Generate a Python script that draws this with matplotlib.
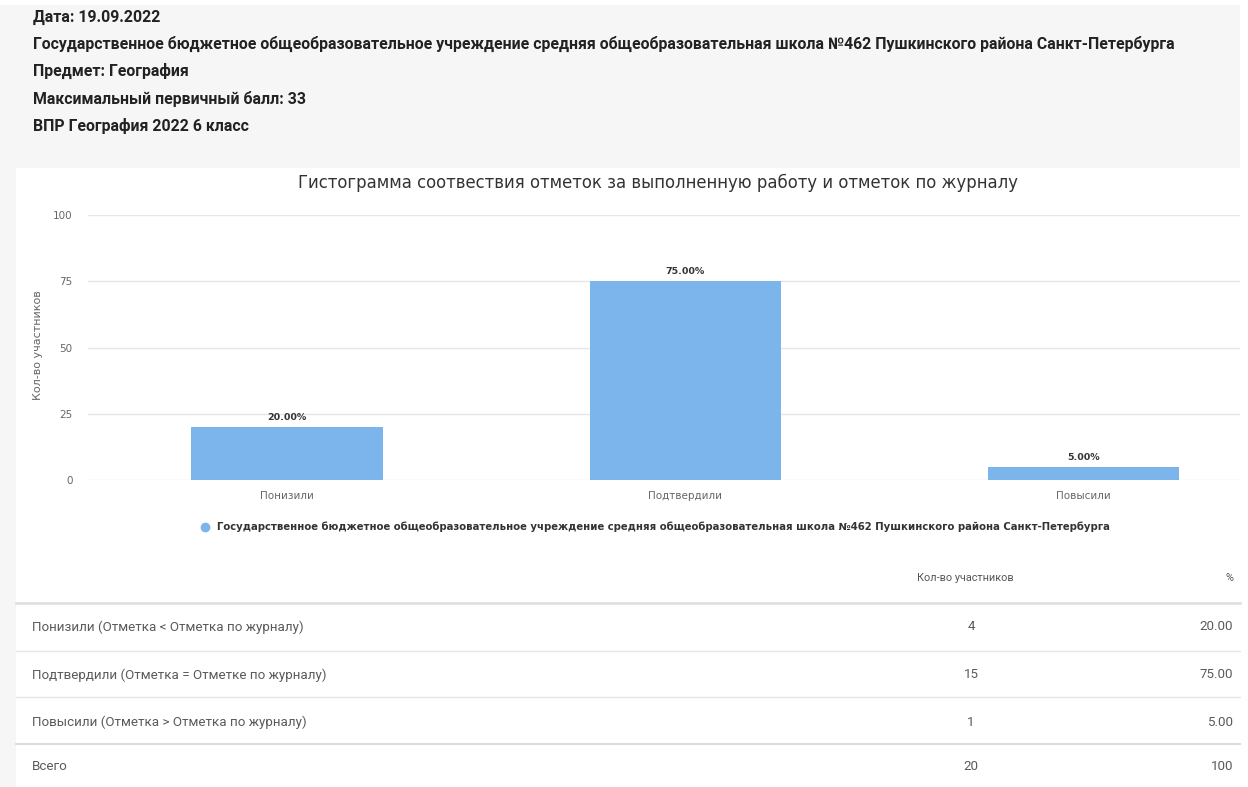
import matplotlib.pyplot as plt
from matplotlib.lines import Line2D
from matplotlib.patches import Rectangle

# данные
header_lines = [
    "Дата: 19.09.2022",
    "Государственное бюджетное общеобразовательное учреждение средняя общеобразовательная школа №462 Пушкинского района Санкт-Петербурга",
    "Предмет: География",
    "Максимальный первичный балл: 33",
    "ВПР География 2022 6 класс",
]
school = "Государственное бюджетное общеобразовательное учреждение средняя общеобразовательная школа №462 Пушкинского района Санкт-Петербурга"
categories = ["Понизили", "Подтвердили", "Повысили"]
percents = [20.0, 75.0, 5.0]
row_labels = [
    "Понизили (Отметка < Отметка по журналу)",
    "Подтвердили (Отметка = Отметке по журналу)",
    "Повысили (Отметка > Отметка по журналу)",
    "Всего",
]
counts = ["4", "15", "1", "20"]
pct_text = ["20.00", "75.00", "5.00", "100"]

W, H = 1248, 787
fig = plt.figure(figsize=(W / 100, H / 100), dpi=100)
fig.patch.set_facecolor("white")


def px(x, y):
    # пиксели картинки -> доли фигуры
    return x / W, 1 - y / H


grey = "#f6f6f6"
fig.patches.append(Rectangle(px(0, 168), 1240 / W, 163 / H, transform=fig.transFigure,
                             facecolor=grey, edgecolor="none", zorder=-10))
fig.patches.append(Rectangle(px(0, 787), 16 / W, (787 - 168) / H, transform=fig.transFigure,
                             facecolor=grey, edgecolor="none", zorder=-10))

# шапка
for i, t in enumerate(header_lines):
    fig.text(*px(33, 17 + 27.2 * i), t, family="Roboto", weight="bold", fontsize=11.4,
             color="#222222", va="center", ha="left")

# гистограмма
ax = fig.add_axes([88 / W, 1 - 480 / H, (1240 - 88) / W, (480 - 215) / H])
ax.set_facecolor("none")
pos = list(range(len(categories)))
bars = ax.bar(pos, percents, width=0.48, color="#7cb5ec", zorder=3)
ax.set_xlim(-0.5, 2.394)
ax.set_ylim(0, 100)
ax.set_yticks([0, 25, 50, 75, 100])
ax.grid(axis="y", color="#e6e6e6", linewidth=1, zorder=0)
ax.set_xticks(pos)
ax.set_xticklabels(categories)
ax.tick_params(axis="both", length=0, labelsize=7.5, labelcolor="#666666")
ax.tick_params(axis="y", pad=11)
ax.tick_params(axis="x", pad=8)
for s in ax.spines.values():
    s.set_visible(False)
for b, p in zip(bars, percents):
    ax.text(b.get_x() + b.get_width() / 2, p + 3.5, f"{p:.2f}%", ha="center", va="center",
            fontsize=6.8, weight="bold", color="#333333")

fig.text(*px(38, 345), "Кол-во участников", rotation=90, ha="center", va="center",
         fontsize=8, color="#666666")
fig.text(*px(658, 183), "Гистограмма соотвествия отметок за выполненную работу и отметок по журналу",
         ha="center", va="center", fontsize=11.9, color="#333333")

handle = Line2D([], [], marker="o", ls="", color="#7cb5ec", markersize=6)
fig.legend([handle], [school], loc="center", bbox_to_anchor=px(652, 527), frameon=False,
           handletextpad=0.2, prop={"size": 7.3, "weight": "bold"}, labelcolor="#333333")

# таблица
fig.text(*px(965, 578), "Кол-во участников", family="Roboto", fontsize=7.8, color="#555555",
         ha="center", va="center")
fig.text(*px(1233, 578), "%", family="Roboto", fontsize=7.8, color="#555555",
         ha="right", va="center")
for yl, lw, c in [(603, 1.8, "#dddddd"), (651, 1, "#e6e6e6"), (697, 1, "#e6e6e6"), (744, 1.5, "#dddddd")]:
    fig.add_artist(Line2D([16 / W, 1240 / W], [1 - yl / H] * 2, color=c, linewidth=lw))
row_y = [627, 675, 722, 767]
for y, lab, n, p in zip(row_y, row_labels, counts, pct_text):
    fig.text(*px(32, y), lab, family="Roboto", fontsize=9.6, color="#5a5a5a", ha="left", va="center")
    fig.text(*px(971, y), n, family="Roboto", fontsize=9.6, color="#5a5a5a", ha="center", va="center")
    fig.text(*px(1233, y), p, family="Roboto", fontsize=9.6, color="#5a5a5a", ha="right", va="center")

fig.savefig("out.png", dpi=100)
